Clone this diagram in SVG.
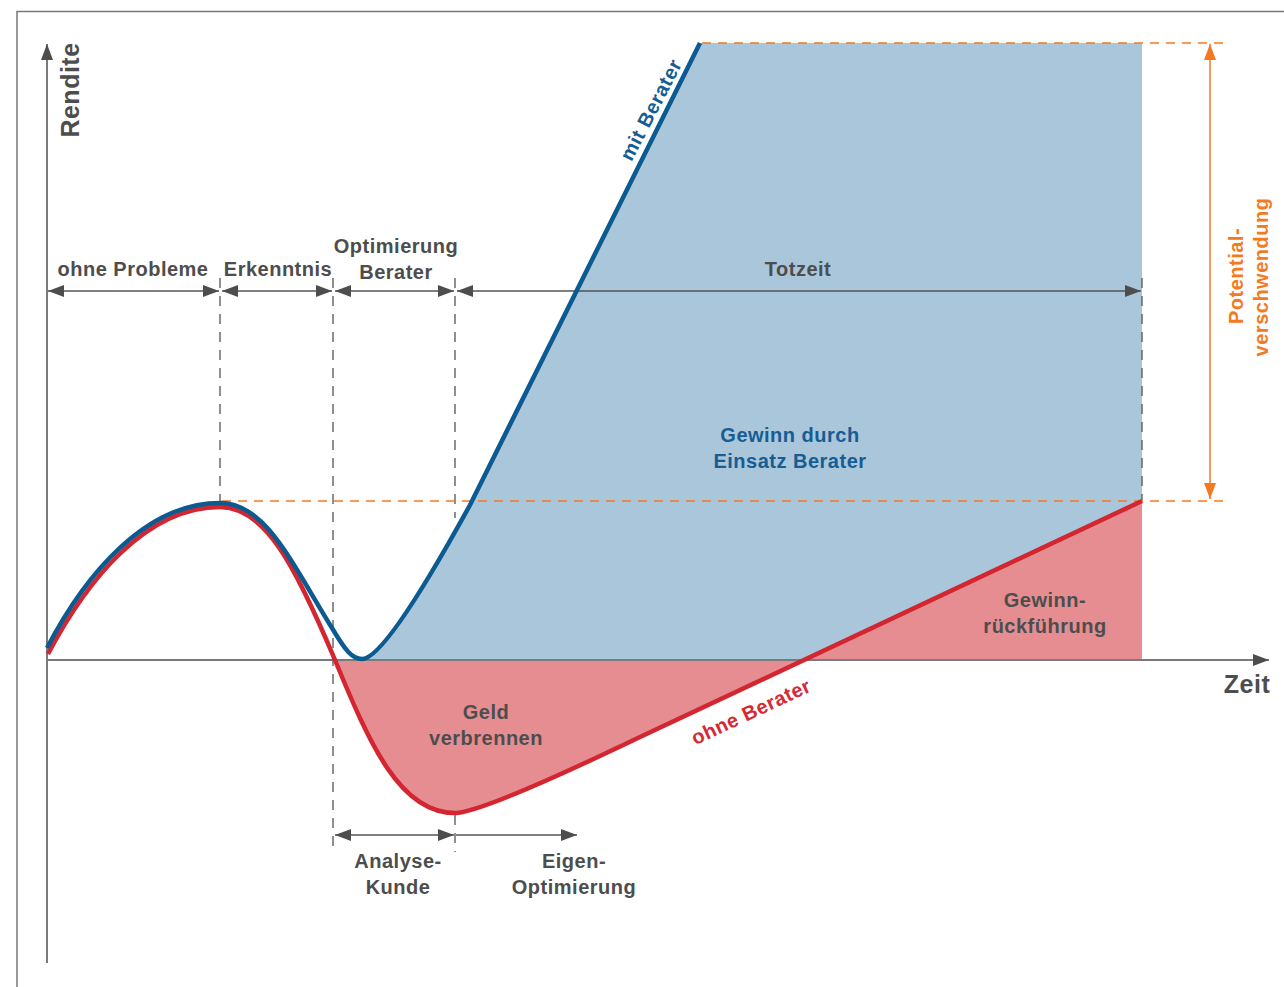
<svg xmlns="http://www.w3.org/2000/svg" width="1284" height="987" viewBox="0 0 1284 987">
<defs>
<style>
.lbl{font-family:"Liberation Sans",Arial,sans-serif;font-weight:bold;font-size:20px;letter-spacing:0.5px;text-anchor:middle;fill:#4d4d4d}
.big{font-size:25px}
.blue{fill:#175d93}
.red{fill:#d42a35}
.orange{fill:#f47a20}
.dash{stroke:#555;stroke-width:1.3;stroke-dasharray:10 8;fill:none}
.odash{stroke:#f47a20;stroke-width:1.5;stroke-dasharray:9 7;fill:none}
.dim{stroke:#555;stroke-width:1.5;fill:none}
.axis{stroke:#7a7a7a;stroke-width:2;fill:none}
</style>
<marker id="ah" viewBox="0 0 16 12" refX="16" refY="6" markerWidth="16" markerHeight="12" markerUnits="userSpaceOnUse" orient="auto-start-reverse">
<path d="M0,0 L16,6 L0,12 Z" fill="#4d4d4d"/>
</marker>
<marker id="ahAxis" viewBox="0 0 16 12" refX="16" refY="6" markerWidth="16" markerHeight="12" markerUnits="userSpaceOnUse" orient="auto-start-reverse">
<path d="M0,0 L16,6 L0,12 Z" fill="#4d4d4d"/>
</marker>
<marker id="ahO" viewBox="0 0 16 12" refX="16" refY="6" markerWidth="16" markerHeight="12" markerUnits="userSpaceOnUse" orient="auto-start-reverse">
<path d="M0,0 L16,6 L0,12 Z" fill="#f47a20"/>
</marker>
</defs>
<rect width="1284" height="987" fill="#ffffff"/>
<path d="M17,987 L17,11.5 L1284,11.5" fill="none" stroke="#777" stroke-width="1.5"/>

<g id="areas">
<path id="blue-fill" d="M352,660 L362,659 C378,659 415,605 470,505 L700,43 L1142,43 L1142,660 Z" fill="#aac6da"/>
<path id="red-fill" d="M335,660 C370,745 400,813 455,813 C475,813 540,785 640,737 L1142,501 L1142,660 Z" fill="#e68d92"/>
</g>

<g id="axes">
<line class="axis" x1="47" y1="963" x2="47" y2="44" marker-end="url(#ahAxis)"/>
<line class="axis" x1="47" y1="660" x2="1269" y2="660" marker-end="url(#ahAxis)"/>
</g>

<g id="guides">
<line class="dash" x1="220" y1="278" x2="220" y2="503"/>
<line class="dash" x1="333" y1="278" x2="333" y2="850"/>
<line class="dash" x1="455" y1="278" x2="455" y2="518"/>
<line class="dash" x1="455" y1="815" x2="455" y2="852"/>
<line class="dash" x1="1142" y1="278" x2="1142" y2="500"/>
<line class="odash" x1="222" y1="501" x2="1230" y2="501"/>
<line class="odash" x1="702" y1="43" x2="1230" y2="43"/>
</g>

<g id="connectors">
<line class="dim" x1="48" y1="291" x2="219" y2="291" marker-start="url(#ah)" marker-end="url(#ah)"/>
<line class="dim" x1="222" y1="291" x2="332" y2="291" marker-start="url(#ah)" marker-end="url(#ah)"/>
<line class="dim" x1="335" y1="291" x2="454" y2="291" marker-start="url(#ah)" marker-end="url(#ah)"/>
<line class="dim" x1="457" y1="291" x2="1141" y2="291" marker-start="url(#ah)" marker-end="url(#ah)"/>
<line class="dim" x1="335" y1="835" x2="454" y2="835" marker-start="url(#ah)" marker-end="url(#ah)"/>
<line class="dim" x1="456" y1="835" x2="577" y2="835" marker-end="url(#ah)"/>
<line x1="1210" y1="44" x2="1210" y2="499" stroke="#f47a20" stroke-width="1.5" marker-start="url(#ahO)" marker-end="url(#ahO)"/>
</g>

<g id="curves">
<path id="ohne-berater-curve" d="M48,654 C86,582 145,507 220,507 C265,507 295,565 335,660 C370,745 400,813 455,813 C475,813 540,785 640,737 L1142,501" fill="none" stroke="#d42630" stroke-width="4.5" stroke-linejoin="round"/>
<path id="mit-berater-curve" d="M47,648 C85,575 145,503 220,503 C265,503 290,560 332,628 C345,650 352,659 362,659 C378,659 415,605 470,505 L700,43" fill="none" stroke="#0b5b91" stroke-width="4.5" stroke-linejoin="round"/>
</g>

<g id="labels">
<text class="lbl big" transform="translate(79,90) rotate(-90)">Rendite</text>
<text class="lbl big" x="1247" y="693">Zeit</text>
<text class="lbl" x="133" y="276">ohne Probleme</text>
<text class="lbl" x="278" y="276">Erkenntnis</text>
<text class="lbl" x="396" y="253">Optimierung</text>
<text class="lbl" x="396" y="279">Berater</text>
<text class="lbl" x="798" y="276">Totzeit</text>
<text class="lbl blue" x="790" y="442">Gewinn durch</text>
<text class="lbl blue" x="790" y="468">Einsatz Berater</text>
<text class="lbl" x="1045" y="607">Gewinn-</text>
<text class="lbl" x="1045" y="633">rückführung</text>
<text class="lbl" x="486" y="719">Geld</text>
<text class="lbl" x="486" y="745">verbrennen</text>
<text class="lbl" x="398" y="868">Analyse-</text>
<text class="lbl" x="398" y="894">Kunde</text>
<text class="lbl" x="574" y="868">Eigen-</text>
<text class="lbl" x="574" y="894">Optimierung</text>
<text class="lbl blue" transform="translate(657,113) rotate(-62.6)">mit Berater</text>
<text class="lbl red" transform="translate(754,718) rotate(-25)">ohne Berater</text>
<text class="lbl orange" transform="translate(1243,276) rotate(-90)">Potential-</text>
<text class="lbl orange" transform="translate(1268,277) rotate(-90)">verschwendung</text>
</g>
</svg>
